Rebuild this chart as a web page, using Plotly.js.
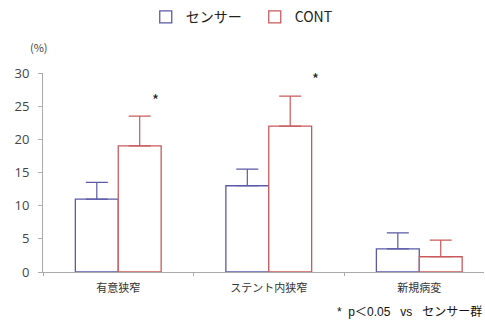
<!DOCTYPE html>
<html>
<head>
<meta charset="utf-8">
<script src="https://cdn.plot.ly/plotly-3.0.1.min.js"></script>
<style>html,body{margin:0;padding:0;background:#fff;}#chart{width:485px;height:321px;}</style>
</head>
<body>
<div id="chart"></div>
<script>
const categories = ['有意狭窄', 'ステント内狭窄', '新規病変'];
const seriesNames = ['センサー', 'CONT'];
const sensorValues = [11, 13, 3.5];
const sensorErrors = [2.5, 2.5, 2.4];
const contValues = [19, 22, 2.3];
const contErrors = [4.5, 4.5, 2.5];
const yTicks = [0, 5, 10, 15, 20, 25, 30];
const sigMarks = [{cat: 0, y: 26.0}, {cat: 1, y: 29.1}];

const blue = '#5a5aa8';
const red = '#c85a5c';
const jp = '"Noto Sans CJK JP", "Open Sans", sans-serif';

const traces = [
  {
    type: 'bar', name: seriesNames[0], x: categories, y: sensorValues,
    marker: {color: '#ffffff', line: {color: blue, width: 1.3}},
    error_y: {type: 'data', array: sensorErrors, arrayminus: [0,0,0], symmetric: false, color: blue, thickness: 1.2, width: 11}
  },
  {
    type: 'bar', name: seriesNames[1], x: categories, y: contValues,
    marker: {color: '#ffffff', line: {color: red, width: 1.3}},
    error_y: {type: 'data', array: contErrors, arrayminus: [0,0,0], symmetric: false, color: red, thickness: 1.2, width: 11}
  }
];

const annotations = sigMarks.map((m, i) => ({
  xref: 'x', yref: 'y', x: m.cat, y: m.y, text: '*', showarrow: false,
  xshift: i === 0 ? 37 : 47, font: {family: jp, size: 15, color: '#222'}
}));
annotations.push({
  xref: 'paper', yref: 'paper', x: -0.01, y: 1.13, xanchor: 'center', yanchor: 'middle',
  text: '(%)', showarrow: false, font: {family: jp, size: 11, color: '#444'}
});
annotations.push({
  xref: 'paper', yref: 'paper', x: 1, y: -0.203, xanchor: 'right', yanchor: 'middle',
  text: '*  p＜0.05   vs   センサー群', showarrow: false,
  font: {family: '"Liberation Sans", "Noto Sans CJK JP", sans-serif', size: 12, color: '#111'}
});

const layout = {
  width: 485, height: 321,
  margin: {l: 43, r: 1, t: 70, b: 49},
  paper_bgcolor: '#ffffff', plot_bgcolor: '#ffffff',
  barmode: 'group', bargap: 0.43, bargroupgap: 0,
  showlegend: true,
  legend: {
    orientation: 'h', x: 0.233, y: 1.28, xanchor: 'left', yanchor: 'middle',
    font: {family: jp, size: 14, color: '#222'}, itemwidth: 30,
    entrywidth: 64, entrywidthmode: 'pixels', bgcolor: 'rgba(0,0,0,0)'
  },
  xaxis: {
    type: 'category', range: [-0.5, 2.43], tickson: 'boundaries',
    ticks: 'outside', ticklen: 3, tickcolor: '#aaa', ticklabelstandoff: 6,
    showline: true, linecolor: '#aaa', linewidth: 1, showgrid: false, zeroline: false,
    tickfont: {family: jp, size: 11, color: '#333'}
  },
  yaxis: {
    range: [0, 30], tickvals: yTicks, ticks: 'outside', ticklen: 4, tickcolor: '#aaa',
    showline: true, linecolor: '#aaa', linewidth: 1, showgrid: false, zeroline: false,
    ticklabelstandoff: 6,
    tickfont: {family: '"Open Sans", sans-serif', size: 13, color: '#444'}
  },
  annotations: annotations
};

Plotly.newPlot('chart', traces, layout, {staticPlot: true, displayModeBar: false});
</script>
</body>
</html>
